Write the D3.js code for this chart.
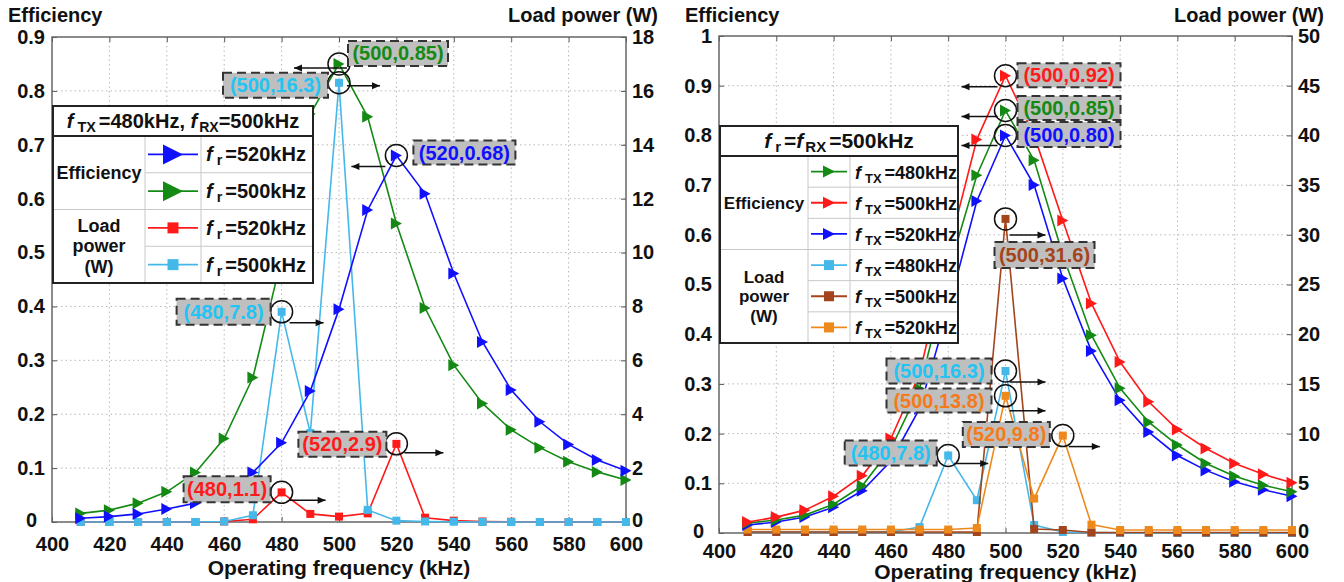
<!DOCTYPE html>
<html><head><meta charset="utf-8">
<script src="https://cdn.jsdelivr.net/npm/d3@7"></script>
<style>
body{margin:0;background:#fff;}
svg{display:block;font-family:"Liberation Sans",Arial,sans-serif;font-weight:bold;}
</style></head><body>
<svg id="c" width="1344" height="582"></svg>
<script>
// ---------------- DATA ----------------
const freqs = [410,420,430,440,450,460,470,480,490,500,510,520,530,540,550,560,570,580,590,600];
const xTicks = [400,420,440,460,480,500,520,540,560,580,600];

// Left panel (fTX=480kHz, fRX=500kHz)
const leftEffFr520 = [0.007,0.010,0.015,0.024,0.035,0.055,0.092,0.147,0.243,0.395,0.579,0.68,0.609,0.461,0.334,0.245,0.186,0.144,0.115,0.095];
const leftEffFr500 = [0.016,0.022,0.035,0.056,0.092,0.155,0.268,0.49,0.757,0.85,0.752,0.554,0.397,0.291,0.22,0.171,0.138,0.112,0.093,0.078];
const leftPowFr520 = [0,0,0,0,0,0.02,0.1,1.1,0.3,0.2,0.32,2.9,0.16,0.05,0.02,0.01,0,0,0,0];
const leftPowFr500 = [0,0,0,0,0,0.02,0.25,7.8,3.3,16.3,0.45,0.05,0.02,0.01,0,0,0,0,0,0];
const leftEffTicks = [0,0.1,0.2,0.3,0.4,0.5,0.6,0.7,0.8,0.9];
const leftPowTicks = [0,2,4,6,8,10,12,14,16,18];

// Right panel (fr=fRX=500kHz)
const rightEffTx480 = [0.02,0.026,0.036,0.058,0.095,0.17,0.29,0.524,0.72,0.85,0.75,0.56,0.398,0.291,0.223,0.177,0.14,0.114,0.096,0.083];
const rightEffTx500 = [0.022,0.032,0.046,0.074,0.115,0.19,0.32,0.566,0.792,0.92,0.80,0.629,0.462,0.344,0.264,0.208,0.17,0.14,0.118,0.101];
const rightEffTx520 = [0.016,0.022,0.032,0.052,0.085,0.145,0.25,0.45,0.668,0.80,0.70,0.512,0.366,0.267,0.203,0.156,0.126,0.103,0.087,0.074];
const rightPowTx480 = [0.1,0.1,0.1,0.1,0.1,0.1,0.6,7.8,3.3,16.3,0.8,0.1,0.05,0.02,0,0,0,0,0,0];
const rightPowTx500 = [0.1,0.1,0.1,0.1,0.1,0.1,0.1,0.1,0.1,31.6,0.4,0.3,0.05,0.05,0.05,0.05,0.05,0.05,0.05,0.05];
const rightPowTx520 = [0.35,0.35,0.35,0.35,0.35,0.35,0.35,0.35,0.5,13.8,3.46,9.8,0.84,0.3,0.3,0.3,0.3,0.3,0.3,0.3];
const rightEffTicks = [0,0.1,0.2,0.3,0.4,0.5,0.6,0.7,0.8,0.9,1];
const rightPowTicks = [0,5,10,15,20,25,30,35,40,45,50];

// Colors
const C = {blue:"#1010ff", green:"#148a14", red:"#ff1a1a", cyan:"#45b8ea", brown:"#a4441c", orange:"#ee8a1c"};
const T = {blue:"#1010ff", green:"#148a14", red:"#ff1a1a", cyan:"#22c4f4", brown:"#a4441c", orange:"#f57a1a"};

const svg = d3.select("#c");

function triPath(w,h){return `M${-w/2},${-h/2}L${w/2},0L${-w/2},${h/2}Z`;}

function fText(sel, sub, rest, fs){
  sel.append("tspan").attr("font-style","italic").text("f");
  sel.append("tspan").attr("font-size",fs*0.72).attr("dx",4).attr("dy",4).text(sub);
  sel.append("tspan").attr("dy",-4).attr("dx",3).text(rest);
}

function panel(cfg){
  const g = svg.append("g");
  const x = d3.scaleLinear().domain([400,600]).range([cfg.x0,cfg.x1]);
  const yL = d3.scaleLinear().domain([0,cfg.effMax]).range([cfg.y1,cfg.y0]);
  const yR = d3.scaleLinear().domain([0,cfg.powMax]).range([cfg.y1,cfg.y0]);

  // grid
  const grid = g.append("g").attr("stroke","#b8b8b8").attr("stroke-width",1).attr("stroke-dasharray","1.5,3");
  xTicks.slice(1,-1).forEach(t=>grid.append("line").attr("x1",x(t)).attr("x2",x(t)).attr("y1",cfg.y0).attr("y2",cfg.y1));
  cfg.effTicks.slice(1,-1).forEach(t=>grid.append("line").attr("x1",cfg.x0).attr("x2",cfg.x1).attr("y1",yL(t)).attr("y2",yL(t)));

  // axes
  const ax = g.append("g").attr("transform",`translate(0,${cfg.y1})`)
    .call(d3.axisBottom(x).tickValues(xTicks).tickSize(-5).tickPadding(cfg.xPad));
  const ayl = g.append("g").attr("transform",`translate(${cfg.x0},0)`)
    .call(d3.axisLeft(yL).tickValues(cfg.effTicks).tickSize(-5).tickPadding(7).tickFormat(d=>d===1?"1":(d===0?"0":d3.format(".1f")(d))));
  const ayr = g.append("g").attr("transform",`translate(${cfg.x1},0)`)
    .call(d3.axisRight(yR).tickValues(cfg.powTicks).tickSize(-5).tickPadding(6));
  const axt = g.append("g").attr("transform",`translate(0,${cfg.y0})`)
    .call(d3.axisTop(x).tickValues(xTicks).tickSize(-5).tickFormat(""));
  [ax,ayl,ayr,axt].forEach(a=>{
    a.select(".domain").remove();
    a.selectAll(".tick line").attr("stroke","#555");
    a.selectAll("text").attr("font-size",20).attr("font-family","Liberation Sans, Arial").attr("font-weight","bold").attr("fill","#111");
  });
  // the zero labels sit slightly away from the corner, as in the original
  ayl.selectAll(".tick").filter(d=>d===0).select("text").attr("dx",-8).attr("dy","0.2em");
  ayr.selectAll(".tick").filter(d=>d===0).select("text").attr("dy","0.2em");
  g.append("rect").attr("x",cfg.x0).attr("y",cfg.y0).attr("width",cfg.x1-cfg.x0).attr("height",cfg.y1-cfg.y0)
    .attr("fill","none").attr("stroke","#666").attr("stroke-width",1.5);

  // titles
  g.append("text").attr("x",cfg.effTitleX).attr("y",22).attr("font-size",20).attr("fill","#111").text("Efficiency");
  g.append("text").attr("x",cfg.x1+32).attr("y",22).attr("text-anchor","end").attr("font-size",20).attr("fill","#111").text("Load power (W)");
  g.append("text").attr("x",(cfg.x0+cfg.x1)/2).attr("y",cfg.titleY).attr("text-anchor","middle").attr("font-size",21).attr("fill","#111").text("Operating frequency (kHz)");

  // series
  cfg.series.forEach(s=>{
    const yy = s.axis==="L"?yL:yR;
    const line = d3.line().x((d,i)=>x(freqs[i])).y(d=>yy(d));
    g.append("path").attr("d",line(s.values)).attr("fill","none").attr("stroke",s.color).attr("stroke-width",1.6);
    const m = g.append("g");
    s.values.forEach((v,i)=>{
      if(s.marker==="tri"){
        m.append("path").attr("d",triPath(11,12)).attr("transform",`translate(${x(freqs[i])},${yy(v)})`).attr("fill",s.color);
      } else {
        m.append("rect").attr("x",x(freqs[i])-4).attr("y",yy(v)-4).attr("width",8).attr("height",8).attr("fill",s.color);
      }
    });
  });

  // legend
  const L = cfg.legend;
  const lg = g.append("g");
  const rows = L.items.length;
  const rh = (L.y2-L.y1)/rows;
  lg.append("rect").attr("x",L.x0).attr("y",L.y0).attr("width",L.x3-L.x0).attr("height",L.y2-L.y0).attr("fill","#fff");
  const gl = lg.append("g").attr("stroke","#c8c8c8").attr("stroke-width",1);
  gl.append("line").attr("x1",L.x1).attr("x2",L.x1).attr("y1",L.y1).attr("y2",L.y2);
  gl.append("line").attr("x1",L.x2).attr("x2",L.x2).attr("y1",L.y1).attr("y2",L.y2);
  for(let i=1;i<rows;i++){
    const yy = L.y1+i*rh;
    gl.append("line").attr("x1",i===L.effRows?L.x0:L.x1).attr("x2",L.x3).attr("y1",yy).attr("y2",yy);
  }
  L.items.forEach((it,i)=>{
    const cy = L.y1+(i+0.5)*rh;
    lg.append("line").attr("x1",L.x1+3).attr("x2",L.x2-3).attr("y1",cy).attr("y2",cy).attr("stroke",it.color).attr("stroke-width",1.8);
    const cx=(L.x1+L.x2)/2;
    if(it.marker==="tri") lg.append("path").attr("d",triPath(L.triW,L.triH)).attr("transform",`translate(${cx},${cy})`).attr("fill",it.color);
    else lg.append("rect").attr("x",cx-L.sq/2).attr("y",cy-L.sq/2).attr("width",L.sq).attr("height",L.sq).attr("fill",it.color);
    const t = lg.append("text").attr("x",L.x2+5).attr("y",cy+7).attr("font-size",L.fs).attr("fill","#111");
    fText(t,it.sub,it.rest,L.fs);
  });
  // group labels
  const effC = L.y1+L.effRows*rh/2;
  lg.append("text").attr("x",(L.x0+L.x1)/2).attr("y",effC+6).attr("text-anchor","middle").attr("font-size",L.gfs).attr("fill","#111").text("Efficiency");
  const powC = L.y1+L.effRows*rh+(rows-L.effRows)*rh/2;
  ["Load","power","(W)"].forEach((w,k)=>lg.append("text").attr("x",(L.x0+L.x1)/2).attr("y",powC+6+(k-1)*L.gfs*1.15).attr("text-anchor","middle").attr("font-size",L.gfs).attr("fill","#111").text(w));
  // header
  const ht = lg.append("text").attr("x",(L.x0+L.x3)/2).attr("y",(L.y0+L.y1)/2+7).attr("text-anchor","middle").attr("font-size",L.hfs).attr("fill","#111");
  L.header(ht);
  lg.append("line").attr("x1",L.x0).attr("x2",L.x3).attr("y1",L.y1).attr("y2",L.y1).attr("stroke","#222").attr("stroke-width",2);
  lg.append("rect").attr("x",L.x0).attr("y",L.y0).attr("width",L.x3-L.x0).attr("height",L.y2-L.y0).attr("fill","none").attr("stroke","#222").attr("stroke-width",2);

  // annotations
  cfg.notes.forEach(n=>{
    const yy = n.axis==="L"?yL:yR;
    const cx = x(n.f), cy = yy(n.v);
    const a = g.append("g");
    a.append("circle").attr("cx",cx).attr("cy",cy).attr("r",11).attr("fill","none").attr("stroke","#111").attr("stroke-width",1.5);
    a.append("rect").attr("x",cx+n.bx).attr("y",cy+n.by).attr("width",n.bw).attr("height",n.bh)
      .attr("fill","#bfbfbf").attr("stroke","#333").attr("stroke-width",2).attr("stroke-dasharray","9,5");
    a.append("text").attr("x",cx+n.bx+n.bw/2).attr("y",cy+n.by+n.bh/2+7).attr("text-anchor","middle")
      .attr("font-size",20).attr("fill",n.tc).text(n.label);
    const ay = cy+n.ay, x1 = cx+n.ax1, x2 = cx+n.ax2;
    a.append("line").attr("x1",x1).attr("x2",x2).attr("y1",ay).attr("y2",ay).attr("stroke","#111").attr("stroke-width",1.5);
    const dir = x2>x1?1:-1;
    a.append("path").attr("d",`M${x2},${ay}L${x2-dir*8},${ay-3.5}L${x2-dir*8},${ay+3.5}Z`).attr("fill","#111");
  });
}

// ---------------- LEFT PANEL ----------------
panel({
  x0:52, x1:626, y0:37, y1:522, effMax:0.9, powMax:18, titleY:575, xPad:15, effTitleX:8,
  effTicks:leftEffTicks, powTicks:leftPowTicks,
  series:[
    {values:leftPowFr520, axis:"R", color:C.red, marker:"sq"},
    {values:leftPowFr500, axis:"R", color:C.cyan, marker:"sq"},
    {values:leftEffFr500, axis:"L", color:C.green, marker:"tri"},
    {values:leftEffFr520, axis:"L", color:C.blue, marker:"tri"}
  ],
  legend:{x0:53,x1:145,x2:201,x3:313,y0:106,y1:136,y2:283,effRows:2,fs:20,gfs:18,hfs:20,triW:20,triH:20,sq:11,
    items:[
      {color:C.blue,marker:"tri",sub:"r",rest:"=520kHz"},
      {color:C.green,marker:"tri",sub:"r",rest:"=500kHz"},
      {color:C.red,marker:"sq",sub:"r",rest:"=520kHz"},
      {color:C.cyan,marker:"sq",sub:"r",rest:"=500kHz"}
    ],
    header:t=>{fText(t,"TX","=480kHz, ",20); t.append("tspan").attr("font-style","italic").text("f");
      t.append("tspan").attr("font-size",14).attr("dx",2).attr("dy",4).text("RX"); t.append("tspan").attr("dy",-4).text("=500kHz");}
  },
  notes:[
    {f:500,v:0.85,axis:"L",label:"(500,0.85)",tc:T.green,bx:9,by:-23,bw:100,bh:25,ax1:8,ax2:-45,ay:4},
    {f:500,v:16.3,axis:"R",label:"(500,16.3)",tc:T.cyan,bx:-116,by:-10,bw:105,bh:25,ax1:8,ax2:41,ay:3},
    {f:520,v:0.68,axis:"L",label:"(520,0.68)",tc:T.blue,bx:17,by:-15,bw:102,bh:24,ax1:-11,ax2:-45,ay:11},
    {f:480,v:7.8,axis:"R",label:"(480,7.8)",tc:T.cyan,bx:-105,by:-13,bw:94,bh:26,ax1:8,ax2:42,ay:11},
    {f:480,v:1.1,axis:"R",label:"(480,1.1)",tc:T.red,bx:-98,by:-16,bw:87,bh:26,ax1:8,ax2:44,ay:8},
    {f:520,v:2.9,axis:"R",label:"(520,2.9)",tc:T.red,bx:-98,by:-12,bw:88,bh:25,ax1:8,ax2:47,ay:9}
  ]
});

// ---------------- RIGHT PANEL ----------------
panel({
  x0:719, x1:1292, y0:36, y1:533, effMax:1, powMax:50, titleY:579, xPad:11, effTitleX:685,
  effTicks:rightEffTicks, powTicks:rightPowTicks,
  series:[
    {values:rightPowTx480, axis:"R", color:C.cyan, marker:"sq"},
    {values:rightPowTx500, axis:"R", color:C.brown, marker:"sq"},
    {values:rightPowTx520, axis:"R", color:C.orange, marker:"sq"},
    {values:rightEffTx520, axis:"L", color:C.blue, marker:"tri"},
    {values:rightEffTx480, axis:"L", color:C.green, marker:"tri"},
    {values:rightEffTx500, axis:"L", color:C.red, marker:"tri"}
  ],
  legend:{x0:720,x1:808,x2:850,x3:958,y0:126,y1:156,y2:343,effRows:3,fs:18,gfs:17,hfs:21,triW:12,triH:12,sq:10,
    items:[
      {color:C.green,marker:"tri",sub:"TX",rest:"=480kHz"},
      {color:C.red,marker:"tri",sub:"TX",rest:"=500kHz"},
      {color:C.blue,marker:"tri",sub:"TX",rest:"=520kHz"},
      {color:C.cyan,marker:"sq",sub:"TX",rest:"=480kHz"},
      {color:C.brown,marker:"sq",sub:"TX",rest:"=500kHz"},
      {color:C.orange,marker:"sq",sub:"TX",rest:"=520kHz"}
    ],
    header:t=>{fText(t,"r","=",21); t.append("tspan").attr("font-style","italic").text("f");
      t.append("tspan").attr("font-size",15).attr("dx",2).attr("dy",4).text("RX"); t.append("tspan").attr("dy",-4).attr("dx",3).text("=500kHz");}
  },
  notes:[
    {f:500,v:0.92,axis:"L",label:"(500,0.92)",tc:T.red,bx:12,by:-12.5,bw:103,bh:24,ax1:-8,ax2:-44,ay:11},
    {f:500,v:0.85,axis:"L",label:"(500,0.85)",tc:T.green,bx:12,by:-14.5,bw:103,bh:24,ax1:-8,ax2:-44,ay:6},
    {f:500,v:0.80,axis:"L",label:"(500,0.80)",tc:T.blue,bx:12,by:-13.4,bw:103,bh:25,ax1:-8,ax2:-44,ay:10},
    {f:500,v:31.6,axis:"R",label:"(500,31.6)",tc:T.brown,bx:-11,by:23,bw:100,bh:26,ax1:4,ax2:40,ay:16},
    {f:500,v:16.3,axis:"R",label:"(500,16.3)",tc:T.cyan,bx:-119,by:-12.5,bw:105,bh:25,ax1:4,ax2:40,ay:11},
    {f:500,v:13.8,axis:"R",label:"(500,13.8)",tc:T.orange,bx:-119,by:-7.3,bw:105,bh:24,ax1:4,ax2:40,ay:15},
    {f:520,v:9.8,axis:"R",label:"(520,9.8)",tc:T.orange,bx:-100,by:-13.6,bw:87,bh:25,ax1:6,ax2:37,ay:11},
    {f:480,v:7.8,axis:"R",label:"(480,7.8)",tc:T.cyan,bx:-103.5,by:-15,bw:92,bh:25,ax1:6,ax2:40,ay:8}
  ]
});
</script></body></html>
